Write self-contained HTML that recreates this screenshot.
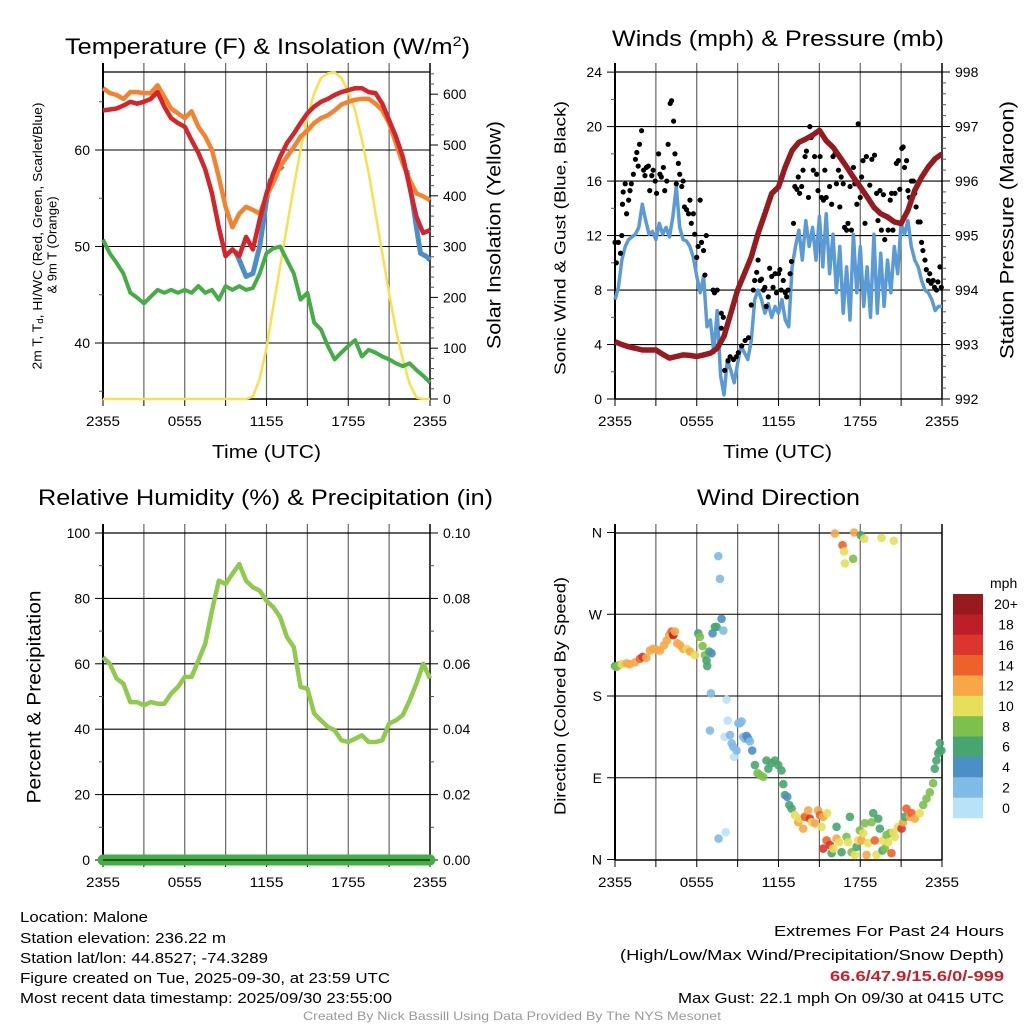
<!DOCTYPE html>
<html><head><meta charset="utf-8"><style>
html,body{margin:0;padding:0;background:#fff;}
svg{display:block;font-family:"Liberation Sans",Arial,sans-serif;}
</style></head><body>
<svg id="fig" width="1024" height="1024" viewBox="0 0 1024 1024" xmlns="http://www.w3.org/2000/svg">
<rect x="0" y="0" width="1024" height="1024" fill="#fff"/>
<g id="p1"></g>
<g id="p2"></g>
<g id="p3"></g>
<g id="p4"></g>
<g id="cbar"></g>
<g fill="#000">
<text x="65" y="54" font-size="22" textLength="405" lengthAdjust="spacingAndGlyphs">Temperature (F) &amp; Insolation (W/m<tspan dy="-8" font-size="14">2</tspan><tspan dy="8">)</tspan></text>
<text x="612" y="46" font-size="22" textLength="332" lengthAdjust="spacingAndGlyphs">Winds (mph) &amp; Pressure (mb)</text>
<text x="38" y="505" font-size="22" textLength="455" lengthAdjust="spacingAndGlyphs">Relative Humidity (%) &amp; Precipitation (in)</text>
<text x="697" y="505" font-size="22" textLength="163" lengthAdjust="spacingAndGlyphs">Wind Direction</text>
<text x="212" y="458" font-size="18" textLength="109" lengthAdjust="spacingAndGlyphs">Time (UTC)</text>
<text x="723" y="458" font-size="18" textLength="109" lengthAdjust="spacingAndGlyphs">Time (UTC)</text>
<text x="37" y="236" font-size="13" text-anchor="middle" dominant-baseline="central" transform="rotate(-90 37 236)" textLength="267" lengthAdjust="spacingAndGlyphs">2m T, T<tspan font-size="9" dy="3">d</tspan><tspan dy="-3">, HI/WC (Red, Green, Scarlet/Blue)</tspan></text>
<text x="52" y="245" font-size="13" text-anchor="middle" dominant-baseline="central" transform="rotate(-90 52 245)">&amp; 9m T (Orange)</text>
<text x="495" y="235" font-size="19" text-anchor="middle" dominant-baseline="central" transform="rotate(-90 495 235)" textLength="228" lengthAdjust="spacingAndGlyphs">Solar Insolation (Yellow)</text>
<text x="561" y="238" font-size="16" text-anchor="middle" dominant-baseline="central" transform="rotate(-90 561 238)" textLength="274" lengthAdjust="spacingAndGlyphs">Sonic Wind &amp; Gust (Blue, Black)</text>
<text x="1008" y="230" font-size="19" text-anchor="middle" dominant-baseline="central" transform="rotate(-90 1008 230)" textLength="258" lengthAdjust="spacingAndGlyphs">Station Pressure (Maroon)</text>
<text x="35" y="697" font-size="19" text-anchor="middle" dominant-baseline="central" transform="rotate(-90 35 697)" textLength="213" lengthAdjust="spacingAndGlyphs">Percent &amp; Precipitation</text>
<text x="561" y="696" font-size="16" text-anchor="middle" dominant-baseline="central" transform="rotate(-90 561 696)" textLength="238" lengthAdjust="spacingAndGlyphs">Direction (Colored By Speed)</text>
</g>
<g font-size="15" fill="#000">
<text x="20" y="922" textLength="128" lengthAdjust="spacingAndGlyphs">Location: Malone</text>
<text x="20" y="943" textLength="206" lengthAdjust="spacingAndGlyphs">Station elevation: 236.22 m</text>
<text x="20" y="963" textLength="248" lengthAdjust="spacingAndGlyphs">Station lat/lon: 44.8527; -74.3289</text>
<text x="20" y="983" textLength="370" lengthAdjust="spacingAndGlyphs">Figure created on Tue, 2025-09-30, at 23:59 UTC</text>
<text x="20" y="1003" textLength="372" lengthAdjust="spacingAndGlyphs">Most recent data timestamp: 2025/09/30 23:55:00</text>
</g>
<g font-size="15" fill="#000" text-anchor="end">
<text x="1004" y="936" textLength="230" lengthAdjust="spacingAndGlyphs">Extremes For Past 24 Hours</text>
<text x="1004" y="960" textLength="384" lengthAdjust="spacingAndGlyphs">(High/Low/Max Wind/Precipitation/Snow Depth)</text>
<text x="1004" y="981" font-weight="bold" fill="#c8202a" textLength="174" lengthAdjust="spacingAndGlyphs">66.6/47.9/15.6/0/-999</text>
<text x="1004" y="1003" textLength="326" lengthAdjust="spacingAndGlyphs">Max Gust: 22.1 mph On 09/30 at 0415 UTC</text>
</g>
<text x="303" y="1020" font-size="12" fill="#999" textLength="418" lengthAdjust="spacingAndGlyphs">Created By Nick Bassill Using Data Provided By The NYS Mesonet</text>
</svg>
<script>
// ---- data (half-hour steps from 2355 UTC, 0..24 h) ----
const tempRed = [64.1,64.2,64.3,64.6,65.0,64.8,65.0,65.3,66.0,64.5,63.3,62.8,62.4,61.0,59.7,58.0,55.5,52.0,49.0,49.7,49.0,51.0,49.7,52.8,55.5,57.6,59.3,60.7,61.7,62.8,63.8,64.5,65.0,65.3,65.7,66.0,66.2,66.4,66.4,66.0,65.9,64.8,63.1,61.4,59.3,56.2,53.1,51.4,51.7];
const tempOrange = [66.4,65.9,65.7,65.3,66.0,66.0,65.9,65.9,66.7,65.5,64.3,63.8,63.3,64.0,62.4,61.4,60.0,57.2,54.1,52.0,53.4,54.1,53.8,53.4,55.2,56.6,58.3,59.3,60.3,61.4,62.0,62.8,63.3,63.6,64.1,64.7,65.0,65.2,65.3,65.3,64.8,64.1,62.8,60.7,58.6,56.9,55.5,55.2,54.8];
const dewGreen = [50.7,49.3,48.3,47.2,45.2,44.7,44.1,44.8,45.5,45.2,45.5,45.2,45.5,45.2,45.9,45.2,45.5,44.5,45.9,45.5,45.9,45.5,45.7,47.2,49.3,49.8,50.0,48.6,47.2,44.5,45.2,42.1,41.4,39.7,38.3,39.0,39.7,40.3,38.6,39.3,39.0,38.6,38.3,37.9,37.6,37.9,37.2,36.6,35.9];
const hiwcHours = [9.7,10,10.5,11,11.5,12,12.3,null,12.7,13,13.2,null,22.3,22.7,23,23.3,23.7,24];
const hiwcVals = [49.5,48.6,46.9,47.2,50.0,54.8,57.0,null,57.9,58.3,58.0,null,57.9,54.8,52.0,49.3,49.0,48.6];
const solar = [0,0,0,0,0,0,0,0,0,0,0,0,0,0,0,0,0,0,0,0,0,0,5,40,100,182,260,339,418,490,556,602,632,641,643,632,605,568,510,445,366,287,208,136,78,30,3,0,0];
const pressure = [993.05,993.0,992.96,992.93,992.90,992.90,992.90,992.82,992.75,992.78,992.81,992.80,992.78,992.81,992.84,992.93,993.15,993.57,994.00,994.30,994.61,995.04,995.40,995.77,995.89,996.26,996.56,996.71,996.77,996.84,996.93,996.74,996.62,996.44,996.26,996.07,995.89,995.71,995.52,995.40,995.34,995.25,995.22,995.46,995.83,996.07,996.26,996.41,996.50];
// quarter-hour sonic wind
const wind = [7.3,8.2,10.2,11.2, 11.7,11.9,12.1,12.6, 14.3,13.1,12.1,12.3, 11.7,12.9,12.1,12.6, 11.9,13.4,15.6,12.6, 11.7,11.6,11.2,10.4, 9.0,7.8,9.0,5.3, 5.8,3.4,6.5,1.7, 0.3,2.9,2.1,1.2, 2.6,3.9,3.4,2.9, 4.3,7.3,8.0,7.3, 6.3,7.0,6.0,6.8, 6.3,7.3,5.8,5.3, 9.7,11.2,12.4,10.2, 13.1,11.2,12.6,10.2, 13.4,9.7,13.6,9.2, 12.1,7.8,11.2,6.3, 9.7,5.8,12.1,7.8, 11.2,6.8,9.7,6.0, 12.1,6.3,10.7,6.8, 10.2,7.8,11.2,9.2, 12.9,12.1,13.1,11.2, 10.2,9.7,8.7,8.0, 7.8,7.3,6.5,6.8, 6.8];
const gustHours = [0,0.1,0.25,0.4,0.5,0.55,0.6,0.75,0.85,1,1.1,1.2,1.35,1.5,1.6,1.7,1.8,1.95,2.1,2.2,2.3,2.45,2.55,2.7,2.8,2.95,3.05,3.2,3.3,3.4,3.55,3.65,3.8,3.9,4.05,4.15,4.3,4.4,4.5,4.65,4.75,4.9,5,5.1,5.25,5.4,5.5,5.6,5.75,5.85,6,6.1,6.25,6.35,6.5,6.6,6.7,7.2,7.3,7.5,7.8,7.95,7.8,8.05,8.3,8.45,8.7,8.9,9.05,9.3,9.55,9.8,10,10.15,10.25,10.4,10.5,10.65,10.75,10.9,11,11.1,11.25,11.35,11.5,11.6,11.75,11.85,12,12.1,12.2,12.35,12.5,12.6,12.7,12.85,12.95,13.1,13.2,13.35,13.45,13.55,13.7,13.8,13.95,14.05,14.2,14.3,14.4,14.55,14.65,14.8,14.9,15.05,15.15,15.3,15.4,15.5,15.75,15.9,16,16.15,16.25,16.4,16.5,16.6,16.75,16.85,17,17.1,17.25,17.35,17.5,17.6,17.75,17.85,18,18.1,18.2,18.35,18.45,18.7,18.85,19.05,19.2,19.3,19.45,19.55,19.7,19.8,19.95,20.05,20.2,20.3,20.4,20.55,20.65,20.8,20.9,21.05,21.15,21.25,21.4,21.5,21.6,21.75,21.9,22,22.1,22.25,22.4,22.5,22.6,22.75,22.85,23,23.1,23.2,23.35,23.45,23.6,23.7,23.85,23.95];
const gustVals = [11.5,10,11.5,10.7,12,14.3,15.2,15.8,13.6,14.6,15.3,15.8,16.5,17.6,18.1,17.1,18.7,19.7,16.8,16.4,17,17.1,15.3,16.4,16.8,16,15.1,18,16.5,16.3,17,15.3,16,18.7,21.7,21.9,20.4,18,15.8,17.3,16.5,15.6,16,14.1,13.9,13.6,14.6,12.9,13.6,12.1,10.4,11.2,14.6,11.5,10.9,9.1,12,8,7.8,8,6.3,6,5.2,2.1,2.8,3.1,2.9,3.1,3.4,3.9,4.3,4.5,6.9,8,8.7,9.3,10.2,8.7,8.8,8,8.2,6.8,7.5,9.6,9,8.2,9.2,7.8,9.2,9.5,8,8.7,7.8,7.5,8,9.2,10.1,12.9,15.6,15.4,16.3,15.1,15.6,16.8,17.8,18.2,14.8,20,19.2,16.8,17.8,16.5,15.3,17.8,14.8,14.6,16.8,14.8,15.6,14.3,17.8,18,15.8,16.8,14.1,16.3,15.8,12.6,12.4,12.9,15.6,12.4,17,15.8,14.3,20.2,14.8,16.3,17.5,12.9,17.8,15.7,17.6,17.9,15.1,13.1,15.3,12.4,15,11.7,13.4,12.4,14.6,15.1,12.4,15.1,17.3,17.5,15.4,18.4,18.5,17,17.5,15.3,14.8,16,16,15.1,14.1,13,13,11.5,10.9,10.2,9.5,8.7,9.2,8.5,8.7,8.2,8,8.6,9.7,8.2];
const dirHours = [0,0.1,0.3,0.5,0.85,1.1,1.45,1.83,2.03,2.3,2.57,2.8,3.06,3.3,3.6,3.8,3.98,4.15,4.28,4.4,4.57,4.77,5.0,5.26,5.5,5.87,6.11,6.23,6.43,6.6,6.72,6.77,6.92,7.09,7.16,7.33,7.46,7.58,7.7,7.82,7.95,7.04,6.97,7.6,8.12,8.19,8.27,8.05,8.44,8.56,8.68,8.75,8.92,9.05,9.17,9.29,9.41,9.54,9.66,9.78,9.9,10.07,10.27,10.46,10.64,10.88,11.12,11.25,11.49,11.74,11.98,12.22,12.35,12.47,12.64,12.79,12.96,13.2,13.45,13.57,13.81,13.94,14.18,14.3,14.43,14.67,14.91,15.04,15.16,15.28,15.53,15.57,15.28,15.77,15.9,16.02,16.26,16.26,16.45,16.63,16.99,17.11,17.24,17.36,17.6,17.73,17.85,17.97,18.09,18.22,18.34,18.46,18.58,18.83,18.95,19.07,19.19,19.32,19.44,19.63,19.68,19.8,19.93,20.05,20.17,20.29,20.42,20.54,20.78,21.03,21.15,21.27,21.39,21.64,21.76,22.0,22.37,22.62,22.86,23.11,23.35,23.47,23.59,23.72,23.84,23.84,23.96,16.14,16.7,16.82,16.87,17.48,17.55,18.04,18.29,19.56,20.46];
const dirDeg = [213,212,214,215,216,215,217,221,223,222,230,232,231,230,236,241,247,251,247,251,238,236,232,232,229,225,249,245,235,225,219,213,229,227,249,256,256,334,309,265,252,183,142,23,30,176,153,135,137,128,124,113,120,150,150,152,135,133,136,133,130,120,104,95,93,91,109,100,106,109,104,98,83,71,69,60,56,49,41,45,34,47,54,45,41,40,54,49,36,47,21,51,12,16,7,12,36,23,19,8,25,19,47,8,5,14,21,32,21,29,40,5,18,41,51,21,5,45,34,10,21,12,27,19,29,7,30,25,36,34,41,47,56,47,51,45,51,60,67,74,84,100,109,117,120,128,120,359,346,339,326,331,360,357,353,354,351];
const dirSpeed = [6,8,8,10,12,12,12,14,16,12,12,12,12,12,12,12,12,14,18,12,12,12,12,10,12,10,6,8,8,8,6,6,6,4,4,6,6,2,2,4,2,2,2,2,0,0,0,0,2,2,2,0,2,2,2,2,2,2,4,4,2,4,6,8,8,8,6,6,6,6,6,6,6,6,4,6,6,10,12,10,12,14,12,16,10,12,12,14,10,12,14,10,16,16,6,10,6,12,10,6,8,10,6,8,10,6,10,8,12,10,8,12,10,8,6,14,10,6,6,6,10,8,8,10,8,14,10,10,10,16,12,6,14,12,14,12,10,8,8,8,8,6,6,6,6,6,6,12,14,10,10,8,12,6,10,10,10];
const rh = [62,60,55.5,53.9,48.3,48.3,47.3,48.3,47.8,47.8,50.9,52.9,56,56,61,66.1,76.3,85.4,84.4,87.5,90.5,85.4,83.4,82.4,79.3,77.3,74.3,68.2,65.1,52.9,52.4,44.8,42.7,40.7,39.7,36.6,36.1,37.1,38.1,36.1,36.1,36.6,41.7,42.7,44.3,48.8,53.9,60,55.5];
const precip = [0,0,0,0,0,0,0,0,0,0,0,0,0,0,0,0,0,0,0,0,0,0,0,0,0];
const timeTickLabels = ["2355","0555","1155","1755","2355"];
const speedBins = [0,2,4,6,8,10,12,14,16,18,20];
const speedBinLabels = ["0","2","4","6","8","10","12","14","16","18","20+"];
const speedColors = ["#b8e3f6","#80bbe6","#4a8fc6","#47a66f","#7dc04e","#e6df58","#f7a746","#ef612b","#dd352b","#bd1e28","#961a1e"];

const NS="http://www.w3.org/2000/svg";
function mk(parent,tag,attrs){const e=document.createElementNS(NS,tag);for(const k in attrs)e.setAttribute(k,attrs[k]);parent.appendChild(e);return e;}
const L=103,R=430,L2=615,R2=942;
const x1=h=>L+h*(R-L)/24;
const x2=h=>L2+h*(R2-L2)/24;
const yT=t=>150-(t-60)*9.65;
const yS=s=>399-s*0.508;
const yW=w=>399-w*13.62;
const yP=p=>399-(p-992)*54.5;
const yR=r=>860-r*3.27;
const yPr=p=>860-p*3270;
const yD=d=>859.5-d*327/360;

function linePath(xs,ys){let d="",pen=false;for(let i=0;i<xs.length;i++){if(xs[i]===null||ys[i]===null){pen=false;continue;}d+=(pen?"L":"M")+xs[i].toFixed(1)+" "+ys[i].toFixed(1);pen=true;}return d;}
const halfH=tempRed.map((_,i)=>i*0.5);
const qH=wind.map((_,i)=>i*0.25);

function frame(g,xl,xr,yt,yb,ext){
  const vg=mk(g,"g",{stroke:"#666","stroke-width":"1.2"});
  
  
  for(let h=3;h<24;h+=3){const x=xl+h*(xr-xl)/24;mk(vg,"line",{x1:x,y1:yt-ext,x2:x,y2:yb});}
  const bt=mk(g,"g",{stroke:"#000","stroke-width":"1"});
  
  
  for(let h=0;h<=24;h+=3){const x=xl+h*(xr-xl)/24;mk(bt,"line",{x1:x,y1:yb,x2:x,y2:yb+7});}
  timeTickLabels.forEach((t,i)=>{const x=xl+i*6*(xr-xl)/24;const tx=mk(g,"text",{x:x,y:yb+27,"font-size":"14","text-anchor":"middle",textLength:"34",lengthAdjust:"spacingAndGlyphs"});tx.textContent=t;
    
    });
  mk(g,"line",{x1:xl,y1:yt-ext,x2:xl,y2:yb,stroke:"#000","stroke-width":"2"});
  mk(g,"line",{x1:xr,y1:yt-ext,x2:xr,y2:yb,stroke:"#000","stroke-width":"1.5"});
  mk(g,"line",{x1:xl,y1:yb,x2:xr,y2:yb,stroke:"#000","stroke-width":"1.5"});
  mk(g,"line",{x1:xl,y1:yt,x2:xr,y2:yt,stroke:"#000","stroke-width":"1.2"});
}
function yAxis(g,x,vals,fy,labels,side,major,minorVals){
  const dir=side==="left"?-1:1;
  vals.forEach((v,i)=>{const y=fy(v);mk(g,"line",{x1:x,y1:y,x2:x+dir*8,y2:y,stroke:"#000"});
    const t=mk(g,"text",{x:x+dir*13,y:y+5,"font-size":"14","text-anchor":side==="left"?"end":"start"});t.textContent=labels[i];
    
    });
  minorVals.forEach(v=>{const y=fy(v);mk(g,"line",{x1:x,y1:y,x2:x+dir*4,y2:y,stroke:"#555"});});
}
function hgrid(g,xl,xr,vals,fy){vals.forEach(v=>{const y=fy(v);mk(g,"line",{x1:xl,y1:y,x2:xr,y2:y,stroke:"#000","stroke-width":"1.1"});});}

// ---------- Panel 1 ----------
(function(){
  const g=document.getElementById("p1");
  frame(g,L,R,72,399,9);
  hgrid(g,L,R,[40,50,60],yT);
  yAxis(g,L,[40,50,60],yT,["40","50","60"],"left",true,[35,45,55,65]);
  const sv=[0,100,200,300,400,500,600],sm=[];for(let s=20;s<=640;s+=20)if(s%100)sm.push(s);
  yAxis(g,R,sv,yS,sv.map(String),"right",true,sm);
  const ys=mk(g,"path",{d:linePath(halfH.map(x1),solar.map(yS)),fill:"none",stroke:"#f8e04e","stroke-width":"2.5","stroke-linejoin":"round"});
  
  
  const gr=mk(g,"path",{d:linePath(halfH.map(x1),dewGreen.map(yT)),fill:"none",stroke:"#45ad45","stroke-width":"4","stroke-linejoin":"round"});
  
  
  const bl=mk(g,"path",{d:linePath(hiwcHours.map(h=>h===null?null:x1(h)),hiwcVals.map(v=>v===null?null:yT(v))),fill:"none",stroke:"#4a8fc8","stroke-width":"5","stroke-linejoin":"round"});
  
  
  const or=mk(g,"path",{d:linePath(halfH.map(x1),tempOrange.map(yT)),fill:"none",stroke:"#f5822e","stroke-width":"4.5","stroke-linejoin":"round"});
  
  
  const rd=mk(g,"path",{d:linePath(halfH.map(x1),tempRed.map(yT)),fill:"none",stroke:"#d4252a","stroke-width":"4.5","stroke-linejoin":"round"});
  
  
})();

// ---------- Panel 2 ----------
(function(){
  const g=document.getElementById("p2");
  frame(g,L2,R2,72,399,9);
  hgrid(g,L2,R2,[4,8,12,16,20],yW);
  const wv=[0,4,8,12,16,20,24];
  yAxis(g,L2,wv,yW,wv.map(String),"left",true,[2,6,10,14,18,22]);
  const pv=[992,993,994,995,996,997,998],pm=[];for(let i=1;i<30;i++)if(i%5)pm.push(992+i*0.2);
  yAxis(g,R2,pv,yP,pv.map(String),"right",true,pm);
  const wl=mk(g,"path",{d:linePath(qH.map(x2),wind.map(yW)),fill:"none",stroke:"#5a9bd5","stroke-width":"3.5","stroke-linejoin":"round"});
  
  
  const gg=mk(g,"g",{fill:"#000"});
  
  
  gustHours.forEach((h,i)=>{const c=mk(gg,"circle",{cx:x2(h),cy:yW(gustVals[i]),r:"2.6"});
    
    });
  const pl=mk(g,"path",{d:linePath(halfH.map(x2),pressure.map(yP)),fill:"none",stroke:"#961a1e","stroke-width":"5.5","stroke-linejoin":"round"});
  
  
})();

// ---------- Panel 3 ----------
(function(){
  const g=document.getElementById("p3");
  frame(g,L,R,533,860,9);
  hgrid(g,L,R,[20,40,60,80],yR);
  const rv=[0,20,40,60,80,100];
  yAxis(g,L,rv,yR,rv.map(String),"left",true,[10,30,50,70,90]);
  const pv=[0,0.02,0.04,0.06,0.08,0.10];
  yAxis(g,R,pv,yPr,pv.map(v=>v.toFixed(2)),"right",true,[0.01,0.03,0.05,0.07,0.09]);
  const rl=mk(g,"path",{d:linePath(halfH.map(x1),rh.map(yR)),fill:"none",stroke:"#8fca4c","stroke-width":"4.5","stroke-linejoin":"round"});
  
  
  const ph=precip.map((_,i)=>i);
  const pl=mk(g,"path",{d:linePath(ph.map(x1),precip.map(yPr)),fill:"none",stroke:"#45ad45","stroke-width":"11","stroke-linecap":"round"});
  
  
  mk(g,"line",{x1:L,y1:860,x2:R,y2:860,stroke:"#000","stroke-width":"1"});
})();

// ---------- Panel 4 ----------
(function(){
  const g=document.getElementById("p4");
  frame(g,L2,R2,533,860,9);
  hgrid(g,L2,R2,[90,180,270],yD);
  const dv=[0,90,180,270,360];
  yAxis(g,L2,dv,yD,["N","E","S","W","N"],"left",true,[]);
  const dg=mk(g,"g",{"fill-opacity":"0.9"});
  
  
  dirHours.forEach((h,i)=>{let b=0;for(let k=0;k<speedBins.length;k++)if(dirSpeed[i]>=speedBins[k])b=k;
    const c=mk(dg,"circle",{cx:x2(h),cy:yD(dirDeg[i]),r:"4.3",fill:speedColors[b]});
    
    });
})();

// ---------- Colorbar ----------
(function(){
  const g=document.getElementById("cbar");
  const top=594,bh=(818-594)/speedColors.length;
  const u=mk(g,"text",{x:990,y:588,"font-size":"14"});u.textContent="mph";
  
  
  for(let i=0;i<speedColors.length;i++){const k=speedColors.length-1-i;const y=top+i*bh;
    const r=mk(g,"rect",{x:953,y:y,width:30,height:bh+0.3,fill:speedColors[k]});
    
    
    const t=mk(g,"text",{x:1006,y:y+bh/2+5,"font-size":"14","text-anchor":"middle"});t.textContent=speedBinLabels[k];
    
    }
})();
</script>
</body></html>
